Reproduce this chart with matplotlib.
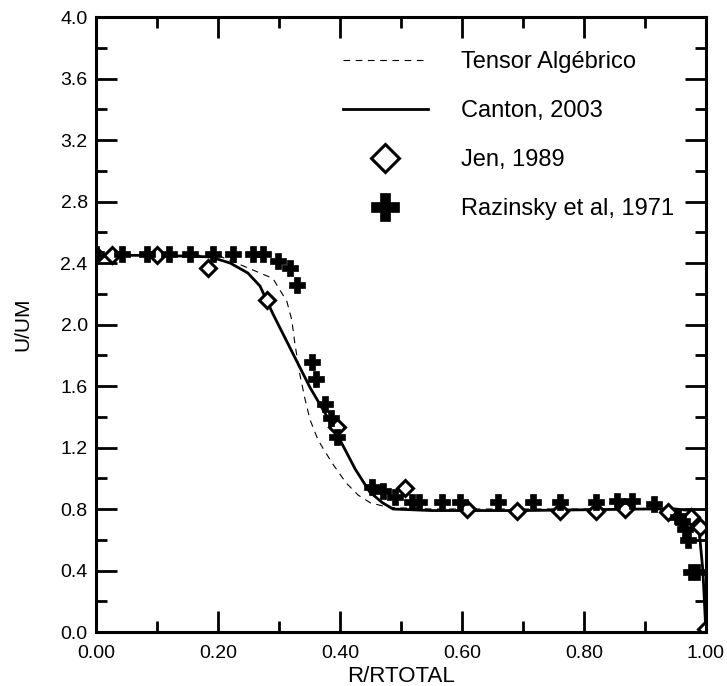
import matplotlib
matplotlib.use("Agg")
import matplotlib.pyplot as plt
from matplotlib.ticker import MultipleLocator, FormatStrFormatter

plt.rcParams['font.family'] = ['Liberation Sans', 'DejaVu Sans']

# Algebraic stress model (dashed)
tensor_x = [0.0, 0.10, 0.20, 0.23, 0.269, 0.29, 0.313, 0.321, 0.326, 0.334, 0.343,
            0.351, 0.364, 0.37, 0.387, 0.41, 0.43, 0.45, 0.48, 0.55, 0.70, 0.90,
            0.97, 0.985, 0.995, 1.0]
tensor_y = [2.45, 2.45, 2.45, 2.40, 2.335, 2.30, 2.15, 2.03, 1.88, 1.68, 1.51,
            1.38, 1.25, 1.21, 1.10, 0.97, 0.89, 0.84, 0.81, 0.80, 0.80, 0.80,
            0.80, 0.76, 0.40, 0.0]

# Canton, 2003 (solid)
canton_x = [0.0, 0.10, 0.187, 0.22, 0.249, 0.269, 0.29, 0.323, 0.351, 0.379, 0.40,
            0.425, 0.449, 0.47, 0.487, 0.55, 0.70, 0.90, 0.95, 0.975, 0.987, 0.995, 1.0]
canton_y = [2.45, 2.45, 2.44, 2.40, 2.335, 2.25, 2.07, 1.81, 1.59, 1.40, 1.25,
            1.06, 0.91, 0.84, 0.80, 0.79, 0.79, 0.80, 0.80, 0.79, 0.74, 0.40, 0.0]

# Jen, 1989 (open diamonds)
jen_x = [0.0, 0.026, 0.10, 0.184, 0.28, 0.395, 0.507, 0.608, 0.69, 0.76, 0.82,
         0.867, 0.938, 0.975, 0.99, 1.0]
jen_y = [2.45, 2.45, 2.45, 2.37, 2.16, 1.335, 0.935, 0.80, 0.79, 0.79, 0.79,
         0.80, 0.78, 0.75, 0.68, 0.02]

# Razinsky et al, 1971 (crosses)
raz_x = [0.0, 0.043, 0.084, 0.12, 0.154, 0.192, 0.225, 0.257, 0.274, 0.298, 0.318,
         0.33, 0.354, 0.361, 0.375, 0.385, 0.395, 0.452, 0.47, 0.49, 0.518, 0.53,
         0.567, 0.597, 0.659, 0.716, 0.76, 0.82, 0.854, 0.879, 0.915, 0.954,
         0.96, 0.966, 0.97, 0.976, 0.986]
raz_y = [2.46, 2.46, 2.46, 2.46, 2.46, 2.46, 2.46, 2.46, 2.46, 2.41, 2.37,
         2.26, 1.755, 1.645, 1.48, 1.39, 1.27, 0.94, 0.92, 0.88, 0.845, 0.845,
         0.845, 0.845, 0.845, 0.845, 0.845, 0.845, 0.85, 0.85, 0.83, 0.75,
         0.72, 0.67, 0.60, 0.39, 0.39]

fig = plt.figure(figsize=(7.27, 6.86), dpi=100)
ax = fig.add_axes([0.132, 0.0787, 0.839, 0.8965])

ax.plot(tensor_x, tensor_y, color='black', lw=0.8, ls=(0, (6, 5)),
        label='Tensor Algébrico')
ax.plot(canton_x, canton_y, color='black', lw=2.0, label='Canton, 2003')
ax.plot(jen_x, jen_y, ls='none', marker='D', ms=8, mfc='white', mec='black',
        mew=2.2, label='Jen, 1989')
ax.plot(raz_x, raz_y, ls='none', marker='P', ms=11, mfc='black', mec='black',
        mew=0.5, label='Razinsky et al, 1971')

ax.set_xlim(0, 1)
ax.set_ylim(0, 4)
ax.xaxis.set_major_locator(MultipleLocator(0.2))
ax.xaxis.set_minor_locator(MultipleLocator(0.1))
ax.yaxis.set_major_locator(MultipleLocator(0.4))
ax.yaxis.set_minor_locator(MultipleLocator(0.2))
ax.xaxis.set_major_formatter(FormatStrFormatter('%.2f'))
ax.yaxis.set_major_formatter(FormatStrFormatter('%.1f'))

ax.tick_params(which='both', direction='in', top=True, right=True, width=2,
               labelsize=14)
ax.tick_params(which='major', length=15, pad=6)
ax.tick_params(which='minor', length=8)
ax.tick_params(axis='x', which='major', pad=9.5)
for sp in ax.spines.values():
    sp.set_linewidth(2.2)

ax.set_xlabel('R/RTOTAL', fontsize=16, labelpad=3)
ax.set_ylabel('U/UM', fontsize=15, labelpad=20)

leg = ax.legend(loc='upper left', bbox_to_anchor=(0.405, 0.945), frameon=False,
                fontsize=17, handlelength=3.6, handletextpad=1.4,
                labelspacing=1.15, borderpad=0, borderaxespad=0, markerscale=1.8)

fig.savefig('out.png', dpi=100)
